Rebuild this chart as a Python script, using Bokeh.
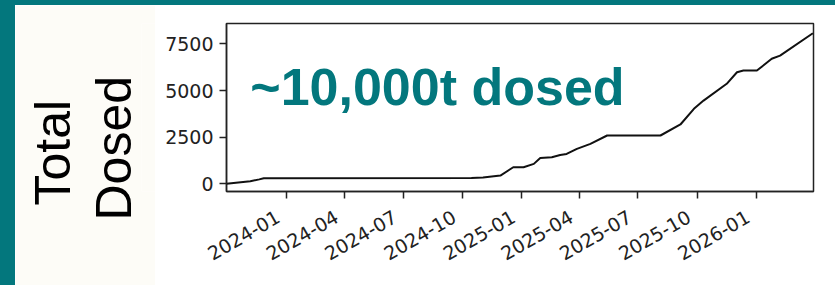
import math
import pandas as pd
from bokeh.plotting import figure
from bokeh.layouts import row, column
from bokeh.models import (Range1d, FixedTicker, DatetimeTickFormatter, Spacer, ColumnDataSource, Title)
from bokeh.core.properties import value
from bokeh.embed import file_html
from bokeh.resources import INLINE

# ---- data ----
dates = ["2023-09-30", "2023-11-06", "2023-11-20", "2023-11-27", "2024-10-15",
         "2024-11-02", "2024-11-29", "2024-12-19", "2025-01-04", "2025-01-20",
         "2025-01-30", "2025-02-17", "2025-03-02", "2025-03-12", "2025-03-28",
         "2025-04-18", "2025-05-14", "2025-08-05", "2025-09-05", "2025-09-26",
         "2025-10-11", "2025-11-16", "2025-12-02", "2025-12-12", "2026-01-02",
         "2026-01-25", "2026-02-07", "2026-03-30"]
total_dosed = [0, 140, 240, 300, 310, 345, 445, 890, 890, 1070,
               1390, 1425, 1550, 1600, 1875, 2140, 2590, 2590, 3180, 4020,
               4460, 5360, 5980, 6070, 6070, 6700, 6870, 8070]
x_tick_labels = ["2024-01", "2024-04", "2024-07", "2024-10", "2025-01",
                 "2025-04", "2025-07", "2025-10", "2026-01"]
y_ticks = [0, 2500, 5000, 7500]
headline = "~10,000t dosed"
y_label_lines = ["Total", "Dosed"]

TEAL = "#03777d"
OFFWHITE = "#fdfcf7"

src = ColumnDataSource(dict(x=pd.to_datetime(dates), y=total_dosed))

# ---- teal bands ----
top_band = Spacer(width=835, height=5, styles={"background-color": TEAL})
left_band = Spacer(width=15, height=280, styles={"background-color": TEAL})

# ---- left label panel: two rotated titles on its left side ----
lp = figure(width=140, height=280, x_range=Range1d(0, 1), y_range=Range1d(0, 1),
            x_axis_location=None, y_axis_location=None, toolbar_location=None,
            output_backend="svg", min_border=0,
            background_fill_color=OFFWHITE, border_fill_color=OFFWHITE)
lp.min_border_left = 126
lp.outline_line_color = None
lp.xgrid.visible = False
lp.ygrid.visible = False
# nearest to the frame first: "Dosed", then "Total"
lp.add_layout(Title(text=y_label_lines[1], align="left", offset=-29, standoff=0,
                    text_font="Liberation Sans", text_font_size="50px",
                    text_font_style="normal", text_color="#000000"), "left")
lp.add_layout(Title(text=y_label_lines[0], align="left", offset=-14, standoff=6,
                    text_font="Liberation Sans", text_font_size="50px",
                    text_font_style="normal", text_color="#000000"), "left")

# ---- main chart ----
x0 = pd.Timestamp(dates[0])
x1 = pd.Timestamp(dates[-1]) + pd.Timedelta(days=1)
p = figure(width=680, height=280, x_axis_type="datetime",
           x_range=Range1d(x0, x1), y_range=Range1d(-410, 8590),
           toolbar_location=None, output_backend="svg",
           min_border_left=71, min_border_right=22, min_border_top=18, min_border_bottom=94,
           background_fill_color="white", border_fill_color="white")
p.xgrid.visible = False
p.ygrid.visible = False
p.outline_line_color = "#222222"
p.outline_line_width = 1.5
p.outline_line_alpha = 1.0

p.line("x", "y", source=src, line_color="#111111", line_width=2)

tick_ms = [pd.Timestamp(t + "-01").value // 10**6 for t in x_tick_labels]
p.xaxis.ticker = FixedTicker(ticks=tick_ms)
fmt = "%Y-%m\u2002"
p.xaxis.formatter = DatetimeTickFormatter(years=fmt, months=fmt, days=fmt, hours=fmt,
                                          hourmin=fmt, minutes=fmt, minsec=fmt,
                                          seconds=fmt, milliseconds=fmt, microseconds=fmt)
p.xaxis.major_label_orientation = math.pi / 6
p.yaxis.ticker = FixedTicker(ticks=y_ticks)

for ax in (p.xaxis[0], p.yaxis[0]):
    ax.axis_line_color = "#222222"
    ax.axis_line_width = 1.5
    ax.major_tick_line_color = "#222222"
    ax.major_tick_line_width = 1.5
    ax.major_tick_out = 7
    ax.major_tick_in = 0
    ax.minor_tick_line_color = None
    ax.major_label_text_font = "DejaVu Sans"
    ax.major_label_text_font_size = "19px"
    ax.major_label_text_color = "#222222"
p.yaxis.major_label_standoff = 6
p.xaxis.major_label_standoff = 12

p.text(x=[pd.Timestamp("2023-11-06")], y=[5200], text=[headline],
       text_align="left", text_baseline="middle",
       text_font=value("Liberation Sans"), text_font_style="bold",
       text_font_size="52px", text_color=TEAL)

layout = column(top_band, row(left_band, lp, p))
open("out.html", "w").write(file_html(layout, INLINE))
